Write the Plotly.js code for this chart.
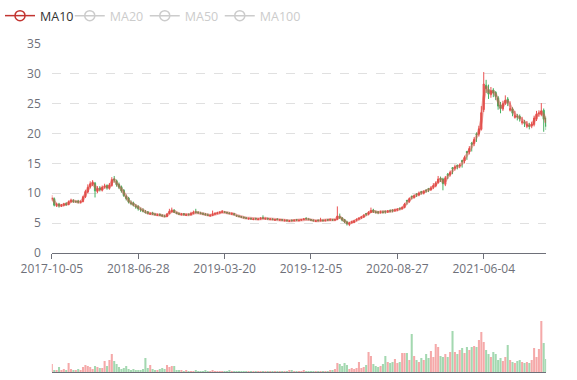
<!DOCTYPE html>
<html>
<head>
<meta charset="utf-8">
<script src="https://cdn.plot.ly/plotly-3.0.1.min.js"></script>
<style>html,body{margin:0;padding:0;background:#fff}#chart{width:577px;height:380px}</style>
</head>
<body>
<div id="chart"></div>
<script>
// Weekly candles (5 trading days each)
const tickLabels = ['2017-10-05','2018-06-28','2019-03-20','2019-12-05','2020-08-27','2021-06-04'];
const tickIndex = [0,180,360,540,720,900];
const daysPerCandle = 5;

const openP = [
 9.0,9.1,8.0,8.2,7.9,8.0,8.3,8.1,8.6,8.8,
 8.6,8.7,8.5,8.6,9.4,10.2,11.1,11.5,11.7,10.3,
 10.9,10.5,11.1,11.3,10.8,11.3,12.4,12.1,11.5,11.1,
 10.5,9.5,9.2,8.4,8.4,7.9,7.8,7.3,7.2,6.9,
 6.9,6.5,6.7,6.5,6.3,6.5,6.3,6.2,6.1,6.6,
 6.9,7.2,6.8,6.6,6.4,6.6,6.3,6.5,6.4,6.6,
 6.9,6.8,6.7,6.6,6.5,6.4,6.2,6.3,6.5,6.6,
 6.7,6.8,6.9,6.8,6.7,6.5,6.6,6.3,6.2,6.1,
 6.0,5.9,5.7,5.8,5.6,5.8,5.6,5.7,5.9,5.7,
 5.8,5.6,5.7,5.5,5.7,5.5,5.6,5.4,5.5,5.3,
 5.5,5.4,5.6,5.4,5.5,5.6,5.8,5.7,5.6,5.5,
 5.3,5.5,5.4,5.5,5.4,5.6,5.5,5.6,5.5,5.6,
 6.1,5.9,5.6,5.2,4.8,5.1,5.1,5.5,5.7,5.9,
 6.0,6.6,6.5,6.8,7.2,6.9,6.9,6.8,6.9,7.0,
 6.9,7.1,7.2,7.1,7.2,7.5,7.4,7.6,8.8,8.6,
 9.5,9.3,9.9,9.7,10.3,10.0,10.5,10.8,10.6,11.0,
 11.2,11.8,12.5,12.4,11.5,13.2,13.1,14.3,14.2,14.7,
 14.6,15.5,15.4,17.0,16.9,18.4,18.3,20.0,19.9,20.7,
 24.0,28.1,27.4,26.5,27.3,26.9,26.0,24.8,24.1,25.1,
 25.8,23.9,24.1,22.7,22.9,22.9,21.8,21.9,21.2,21.4,
 21.3,21.5,22.4,23.4,23.2,23.9,22.6];
const closeP = [
 9.2,8.0,8.1,7.9,8.0,8.2,8.1,8.6,8.8,8.6,
 8.6,8.5,8.6,9.4,10.3,11.0,11.6,11.8,10.4,10.8,
 10.6,11.0,11.2,10.9,11.4,12.3,12.2,11.4,11.0,10.4,
 9.6,9.1,8.5,8.3,8.0,7.7,7.4,7.2,7.0,6.8,
 6.6,6.6,6.5,6.4,6.4,6.3,6.2,6.1,6.5,7.0,
 7.1,6.8,6.6,6.5,6.5,6.4,6.4,6.4,6.6,6.8,
 6.8,6.7,6.6,6.5,6.4,6.3,6.3,6.5,6.6,6.7,
 6.8,6.9,6.8,6.7,6.6,6.6,6.4,6.2,6.1,6.0,
 5.9,5.8,5.8,5.7,5.7,5.7,5.7,5.8,5.8,5.8,
 5.7,5.7,5.6,5.6,5.6,5.6,5.5,5.5,5.4,5.4,
 5.4,5.5,5.5,5.5,5.6,5.7,5.7,5.6,5.5,5.4,
 5.4,5.4,5.5,5.4,5.5,5.5,5.6,5.5,5.6,6.2,
 5.9,5.5,5.2,4.9,5.0,5.2,5.4,5.6,5.8,6.0,
 6.3,6.5,6.8,7.1,6.9,6.8,6.8,6.9,6.8,6.9,
 7.0,7.0,7.1,7.2,7.3,7.4,7.6,8.2,8.7,9.1,
 9.4,9.6,9.8,10.0,10.1,10.3,10.4,10.6,10.9,11.3,
 11.7,12.4,12.3,11.6,12.6,13.0,13.5,14.1,14.4,14.5,
 14.7,15.3,16.0,16.8,17.5,18.2,19.0,19.8,20.8,23.5,
 28.3,27.5,26.6,27.2,26.8,26.2,24.6,24.2,25.0,25.6,
 25.2,24.2,23.4,23.0,22.8,22.5,22.0,21.7,21.5,21.2,
 21.6,22.6,23.3,23.4,23.8,22.4,21.2];
const highP = [
 9.7,9.3,8.4,8.4,8.2,8.4,8.5,8.8,9.1,9.0,
 8.8,8.9,8.8,9.6,10.6,11.5,12.0,12.2,11.9,11.2,
 11.2,11.3,11.6,11.5,11.7,12.7,12.9,12.3,11.8,11.3,
 10.7,9.8,9.4,8.8,8.6,8.2,8.0,7.6,7.5,7.2,
 7.0,6.8,6.9,6.7,6.6,6.6,6.5,6.4,6.7,7.4,
 7.6,7.3,6.9,6.8,6.7,6.7,6.6,6.6,6.9,7.1,
 7.4,7.0,6.9,6.8,6.7,6.6,6.5,7.1,6.8,6.9,
 7.0,7.2,7.0,6.9,6.8,6.8,6.7,6.4,6.3,6.2,
 6.1,6.0,5.9,5.9,5.8,5.9,5.8,6.0,6.3,5.9,
 5.9,5.8,5.8,5.7,5.8,5.7,5.7,5.6,5.6,5.5,
 5.6,5.6,5.7,5.6,5.7,5.8,6.0,5.8,5.7,5.6,
 5.5,5.6,5.9,5.6,5.6,5.7,5.8,5.7,5.7,7.8,
 6.6,6.0,5.7,5.4,5.2,5.4,5.5,5.8,6.0,6.2,
 6.5,6.7,7.0,7.6,7.4,7.1,7.0,7.1,7.1,7.1,
 7.2,7.3,7.3,7.4,7.5,7.6,7.8,8.4,8.9,9.3,
 9.6,9.8,10.0,10.3,10.4,10.5,10.7,10.9,11.2,11.7,
 12.0,12.9,12.8,12.6,12.9,13.4,13.8,14.4,14.8,14.8,
 15.0,15.6,16.3,17.1,17.9,18.6,19.4,20.2,21.3,24.6,
 30.3,29.0,28.2,27.8,27.6,27.1,26.3,25.3,25.5,26.4,
 26.1,25.4,24.4,23.8,23.3,23.2,22.8,22.3,22.1,21.8,
 22.0,23.0,23.8,23.9,25.1,24.2,22.9];
const lowP = [
 8.7,7.8,7.7,7.6,7.7,7.8,7.9,8.0,8.4,8.4,
 8.4,8.3,8.3,8.5,9.2,10.0,10.8,11.2,9.3,10.0,
 10.3,10.3,10.8,10.6,10.6,11.1,11.8,11.1,10.7,10.1,
 9.4,8.8,8.3,8.0,7.8,7.4,7.1,6.9,6.8,6.6,
 6.5,6.4,6.4,6.3,6.2,6.2,6.1,6.0,6.0,6.5,
 6.8,6.7,6.5,6.4,6.3,6.3,6.2,6.3,6.3,6.5,
 6.6,6.6,6.5,6.4,6.3,6.2,6.1,6.2,6.4,6.5,
 6.6,6.7,6.7,6.6,6.5,6.4,6.3,6.1,6.0,5.9,
 5.8,5.7,5.6,5.6,5.5,5.6,5.5,5.6,5.7,5.6,
 5.6,5.5,5.5,5.4,5.5,5.4,5.4,5.3,5.3,5.2,
 5.3,5.3,5.4,5.3,5.4,5.5,5.6,5.5,5.4,5.3,
 5.2,5.3,5.3,5.3,5.3,5.4,5.4,5.4,5.4,5.5,
 5.7,5.3,5.0,4.6,4.5,4.9,5.0,5.3,5.5,5.7,
 5.9,6.2,6.3,6.7,6.7,6.6,6.5,6.6,6.6,6.6,
 6.7,6.8,6.8,6.9,7.0,7.2,7.3,7.5,8.1,8.4,
 9.0,9.1,9.4,9.5,9.8,9.8,10.1,10.2,10.4,10.7,
 11.0,11.6,11.9,10.5,11.2,12.4,12.8,13.2,13.8,14.0,
 14.2,14.3,15.0,15.6,16.5,17.0,17.9,18.6,19.5,20.5,
 23.6,26.8,25.8,26.0,26.1,25.6,24.0,23.4,23.8,24.8,
 24.6,23.7,22.9,22.5,22.2,22.0,21.5,21.1,20.9,20.7,
 20.9,21.2,22.1,22.8,22.9,20.3,20.6];
const volume = [
 8,2,2,5,2,3,2,9,3,2,
 2,3,2,5,7,6,5,3,6,5,
 4,4,11,6,12,18,11,8,5,3,
 4,6,3,2,3,2,2,2,3,14,
 4,7,3,2,2,3,4,3,7,5,
 6,6,2,2,2,1,2,1,1,1,
 2,1,1,1,2,1,1,2,1,1,
 1,1,1,1,2,1,1,1,1,1,
 1,1,1,1,1,1,1,1,1,1,
 1,1,1,1,1,1,1,1,1,2,
 2,1,1,1,1,2,1,1,1,1,
 1,1,1,1,1,1,2,2,3,9,
 8,6,9,7,3,4,3,4,10,4,
 5,7,20,16,8,6,5,6,8,16,
 10,9,10,13,9,10,19,19,19,12,
 38,16,12,10,14,12,18,14,21,15,
 28,25,16,15,18,15,20,41,20,18,
 22,24,19,25,22,25,26,25,32,40,
 30,22,18,15,20,18,12,14,11,15,
 27,12,10,9,11,12,10,9,10,9,
 12,24,15,23,51,29,13];

const UP = '#eb5454', DOWN = '#47b262';
const xIdx = closeP.map((_, i) => i * daysPerCandle);
// MA10 = mean of the last 10 trading days = last 2 weekly closes
const ma10 = closeP.map((c, i) => i === 0 ? c : (c + closeP[i - 1]) / 2);
const volColors = closeP.map((c, i) => c >= openP[i] ? 'rgba(235,84,84,0.5)' : 'rgba(71,178,98,0.5)');

const greyItem = (name) => ({type:'scatter', mode:'lines+markers', x:[null], y:[null], legend:'legend2',
   name:'<span style="color:#ccc">' + name + '</span>',
   line:{color:'#ccc', width:1.5}, marker:{symbol:'circle-open', size:10, color:'#ccc', line:{width:1.5}}});

const traces = [
  {type:'candlestick', x:xIdx, open:openP, high:highP, low:lowP, close:closeP,
   xaxis:'x', yaxis:'y', showlegend:false, whiskerwidth:0,
   increasing:{line:{color:UP, width:1}, fillcolor:UP},
   decreasing:{line:{color:DOWN, width:1}, fillcolor:DOWN},
   hoverinfo:'skip'},
  {type:'scatter', mode:'lines', x:xIdx, y:ma10, xaxis:'x', yaxis:'y',
   line:{color:'rgba(214,72,62,0.45)', width:3}, showlegend:false, hoverinfo:'skip'},
  {type:'bar', x:xIdx, y:volume, xaxis:'x2', yaxis:'y2', marker:{color:volColors, line:{width:0}},
   showlegend:false, hoverinfo:'skip'},
  {type:'scatter', mode:'lines+markers', x:[null], y:[null], name:'MA10', legend:'legend',
   line:{color:'#c23531', width:1.5}, marker:{symbol:'circle-open', size:10, color:'#c23531', line:{width:1.5}}},
  greyItem('MA20'), greyItem('MA50'), greyItem('MA100'),
  {type:'scatter', mode:'none', x:[null], y:[null], name:' ', legend:'legend2', hoverinfo:'skip'}
];

const H = 380, W = 577;
const legendBase = {orientation:'h', xanchor:'left', y:1 - 1/H, yanchor:'top',
          font:{size:12.5, color:'#333'}, bgcolor:'rgba(0,0,0,0)',
          entrywidth:30, entrywidthmode:'pixels'};
const layout = {
  width:W, height:H,
  margin:{l:0, r:0, t:0, b:0},
  paper_bgcolor:'#fff', plot_bgcolor:'#fff',
  font:{family:'"Open Sans", "Noto Sans", sans-serif', size:12, color:'#6e7079'},
  showlegend:true,
  legend:Object.assign({}, legendBase, {x:-2/W}),
  legend2:Object.assign({}, legendBase, {x:68/W}),
  bargap:0.15,
  xaxis:{domain:[50/W, 546/W], range:[0, 1030], anchor:'y',
         tickmode:'array', tickvals:tickIndex, ticktext:tickLabels,
         showline:true, linecolor:'#6e7079', linewidth:1, ticks:'outside', ticklen:5, tickcolor:'#6e7079',
         showgrid:false, zeroline:false, rangeslider:{visible:false}, fixedrange:true},
  yaxis:{domain:[(H-253)/H, (H-44)/H], range:[0, 35], dtick:5, anchor:'x',
         showgrid:true, gridcolor:'#e0e0e0', griddash:'dash', gridwidth:1,
         zeroline:false, showline:false, ticks:'', ticklabelstandoff:10, fixedrange:true},
  xaxis2:{domain:[50/W, 546/W], range:[0, 1030], anchor:'y2', matches:'x',
          showticklabels:false, ticks:'', showline:true, linecolor:'#6e7079', linewidth:1,
          showgrid:false, zeroline:false, rangeslider:{visible:false}},
  yaxis2:{domain:[(H-372)/H, (H-300)/H], range:[0, 72], anchor:'x2',
          showticklabels:false, showgrid:false, zeroline:false, showline:false, ticks:''}
};

Plotly.newPlot('chart', traces, layout, {displayModeBar:false, staticPlot:true});
</script>
</body>
</html>
